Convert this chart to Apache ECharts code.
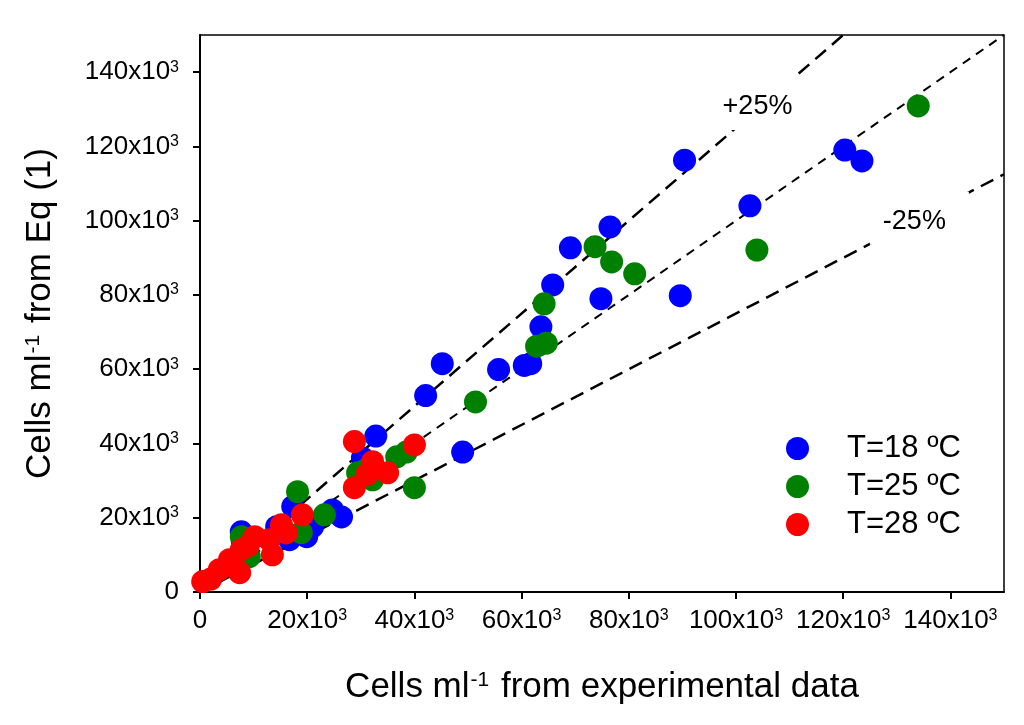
<!DOCTYPE html>
<html>
<head>
<meta charset="utf-8">
<script src="https://cdn.jsdelivr.net/npm/echarts@6/dist/echarts.min.js"></script>
<style>
html,body{margin:0;padding:0;background:#fff;}
#chart{width:1024px;height:725px;}
</style>
</head>
<body>
<div id="chart"></div>
<script>
// values in thousands of cells per ml
const seriesNames = ['T=18 ºC', 'T=25 ºC', 'T=28 ºC'];
const blueX = [90.4, 120.3, 123.5, 102.6, 76.5, 69.1, 65.8, 74.8, 89.6, 63.6, 45.2, 55.7, 60.5, 61.7, 42.1, 32.8, 49.0, 30.3, 24.7, 26.4, 17.3, 7.7, 14.3, 16.7, 19.9, 21.0, 7.9];
const blueY = [116.3, 119.0, 116.1, 104.0, 98.3, 92.7, 82.7, 79.0, 79.8, 71.4, 61.5, 59.9, 61.0, 61.5, 52.9, 42.0, 37.7, 36.1, 22.1, 20.2, 23.0, 16.2, 17.6, 14.1, 14.9, 17.6, 13.5];
const greenX = [134.0, 103.9, 73.7, 76.8, 81.1, 64.2, 62.8, 64.6, 51.4, 40.0, 38.5, 36.7, 32.2, 29.4, 18.2, 23.2, 18.9, 7.7, 9.2, 31.0];
const greenY = [130.9, 92.1, 93.0, 88.9, 85.7, 77.6, 66.2, 67.0, 51.2, 28.1, 37.7, 36.4, 30.2, 32.1, 27.0, 20.8, 16.0, 14.9, 9.5, 33.0];
const redX = [0.5, 3.6, 7.4, 5.5, 7.7, 10.2, 13.5, 12.9, 15.2, 16.1, 19.1, 28.8, 28.8, 32.2, 31.1, 35.0, 40.0, 2.0, 9.0];
const redY = [2.8, 6.0, 5.2, 8.7, 11.4, 14.9, 10.0, 14.1, 18.1, 15.9, 20.8, 40.5, 28.1, 35.1, 31.6, 32.1, 39.6, 3.5, 12.5];
const xTicks = [0, 20, 40, 60, 80, 100, 120, 140];
const yTicks = [0, 20, 40, 60, 80, 100, 120, 140];
const refRatios = [1, 1.25, 0.75];
const refLabels = ['', '+25%', '-25%'];

const AX_MAX = 150;
const FONT = '"Liberation Sans", Arial, sans-serif';
const zip = (xs, ys) => xs.map((x, i) => [x, ys[i]]);
const fmt = v => v === 0 ? '{n|0}' : '{n|' + v + 'x10}{s|3}';
const tickRich = {
  n: { fontFamily: FONT, fontSize: 26, color: '#000' },
  s: { fontFamily: FONT, fontSize: 16, color: '#000', verticalAlign: 'top' }
};
const titleRich = {
  a: { fontFamily: FONT, fontSize: 35, color: '#000' },
  s: { fontFamily: FONT, fontSize: 21, color: '#000', verticalAlign: 'top', padding: [0, 2, 0, 1] }
};

const refSeries = refRatios.map((k, i) => {
  const xe = Math.min(AX_MAX, AX_MAX / k);
  return {
    type: 'line', name: 'ref' + i, silent: true, symbol: 'none', z: 1,
    data: [[0, 0], [xe, k * xe]],
    lineStyle: { color: '#000', width: k === 1 ? 2 : 2.5, type: k === 1 ? [9, 7] : [14, 8] },
    animation: false
  };
});

const colors = ['#0000ff', '#008000', '#ff0000'];
const pts = [zip(blueX, blueY), zip(greenX, greenY), zip(redX, redY)];
const scatterSeries = pts.map((d, i) => ({
  type: 'scatter', name: seriesNames[i], data: d, symbolSize: 23, z: 2 + i,
  itemStyle: { color: colors[i], opacity: 1 }, animation: false
}));

const chart = echarts.init(document.getElementById('chart'), null, { renderer: 'canvas' });
chart.setOption({
  backgroundColor: '#fff',
  animation: false,
  grid: { left: 200, right: 20, top: 35, bottom: 133, show: true, borderColor: '#000', borderWidth: 1.5 },
  legend: {
    data: seriesNames, orient: 'vertical', left: 781, top: 428, itemWidth: 23, itemHeight: 23,
    itemGap: 7, icon: 'circle',
    textStyle: { fontFamily: FONT, fontSize: 31, color: '#000', padding: [0, 0, 0, 33] }
  },
  xAxis: {
    type: 'value', min: 0, max: AX_MAX,
    name: '{a|Cells ml}{s|-1}{a| from experimental data}', nameLocation: 'middle', nameGap: 78,
    nameTextStyle: { rich: titleRich },
    splitLine: { show: false },
    axisLine: { lineStyle: { color: '#000', width: 2 } },
    axisTick: { show: true, length: 7, inside: false, customValues: xTicks, lineStyle: { color: '#000', width: 2 } },
    axisLabel: { customValues: xTicks, formatter: fmt, rich: tickRich, margin: 16 }
  },
  yAxis: {
    type: 'value', min: 0, max: AX_MAX,
    name: '{a|Cells ml}{s|-1}{a| from Eq (1)}', nameLocation: 'middle', nameGap: 142, nameRotate: 90,
    nameTextStyle: { rich: titleRich },
    splitLine: { show: false },
    axisLine: { lineStyle: { color: '#000', width: 2 } },
    axisTick: { show: true, length: 7, inside: false, customValues: yTicks, lineStyle: { color: '#000', width: 2 } },
    axisLabel: { customValues: yTicks, formatter: fmt, rich: tickRich, margin: 21 }
  },
  series: [...refSeries, ...scatterSeries]
});

// annotation labels placed via the chart's own scale; white box hides the dashed line behind
const labelPos = [null, [97.5, 130.6], [127.4, 99.7]];
const labelPad = [null, [16, 4, 10, 8], [16, 23, 10, 13]];
const g = [];
refLabels.forEach((t, i) => {
  if (!t) return;
  const p = chart.convertToPixel({ gridIndex: 0 }, labelPos[i]);
  const pad = labelPad[i];
  g.push({
    type: 'text', z: 10,
    x: p[0] - pad[3], y: p[1] - 14 - pad[0],
    style: { text: t, font: '27px ' + FONT, fill: '#000', align: 'left', verticalAlign: 'top',
      backgroundColor: '#fff', padding: pad }
  });
});
chart.setOption({ graphic: g });
</script>
</body>
</html>
